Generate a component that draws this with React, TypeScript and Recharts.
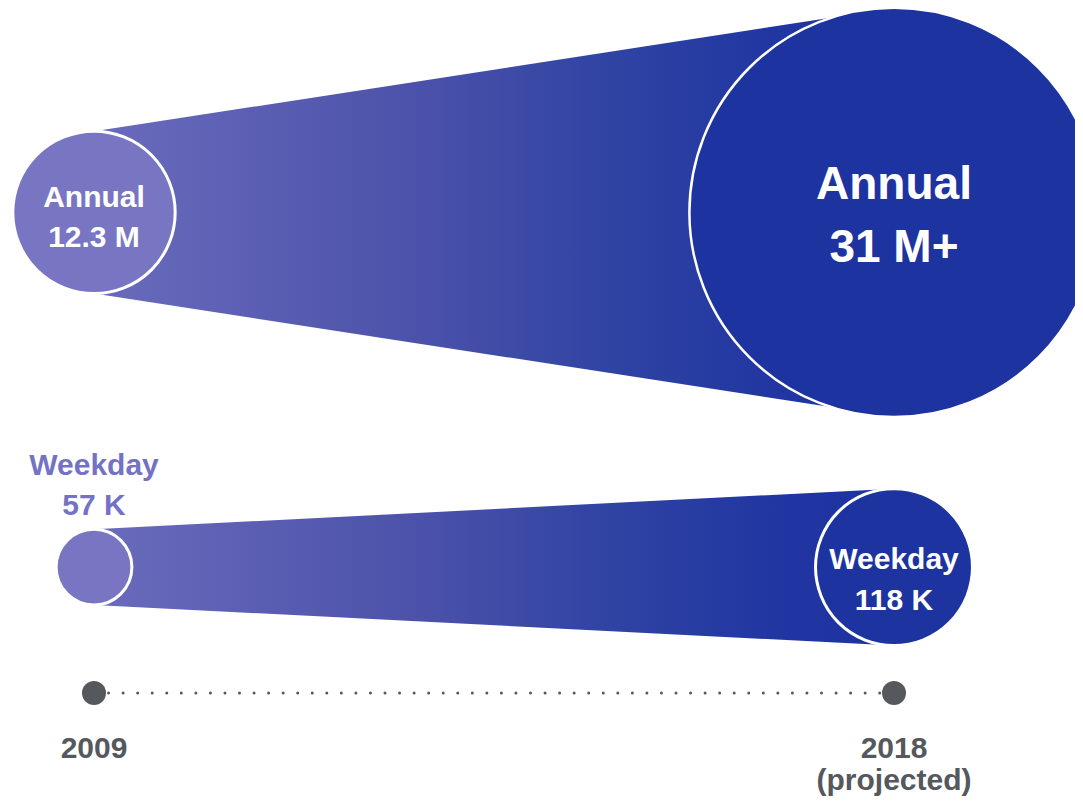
import { ComposedChart, Area, Line, Scatter, XAxis, YAxis } from "recharts";

// ridership, 2009 vs 2018 (projected)
const years = [2009, 2018];
const yearLabels = [["2009"], ["2018", "(projected)"]];
const annualRiders = [12.3, 31]; // millions
const annualLabels = [["Annual", "12.3 M"], ["Annual", "31 M+"]];
const weekdayRiders = [57, 118]; // thousands
const weekdayLabels = [["Weekday", "57 K"], ["Weekday", "118 K"]];

const W = 1075;
const H = 797;
const AXIS_H = 97;
const PLOT_H = H - AXIS_H;
const ROW = { annual: 204, weekday: 559, timeline: 685 };
const PX_PER_M = 6.6;
const PX_PER_K = 0.665;

const FONT = "'Liberation Sans', Arial, Helvetica, sans-serif";
const LIGHT = "#7876c3";
const DARK = "#1d33a0";
const GREY = "#55585d";

const data = years.map((year, i) => {
  const ra = annualRiders[i] * PX_PER_M;
  const rw = weekdayRiders[i] * PX_PER_K;
  return {
    year,
    annualBand: [ROW.annual - ra, ROW.annual + ra],
    weekdayBand: [ROW.weekday - rw, ROW.weekday + rw],
    timeline: ROW.timeline,
  };
});

const annualPts = years.map((year, i) => ({
  year,
  y: ROW.annual,
  r: annualRiders[i] * PX_PER_M,
  lines: annualLabels[i],
  i,
}));
const weekdayPts = years.map((year, i) => ({
  year,
  y: ROW.weekday,
  r: weekdayRiders[i] * PX_PER_K,
  lines: weekdayLabels[i],
  i,
}));
const timelinePts = years.map((year) => ({ year, y: ROW.timeline }));

type BubbleStyle = {
  fill: string[];
  textFill: string[];
  fontSize: number[];
  baselines: number[][];
  strokeWidth: number[];
};

const annualStyle: BubbleStyle = {
  fill: [LIGHT, DARK],
  textFill: ["#fff", "#fff"],
  fontSize: [30, 46],
  baselines: [[-5, 35], [-13, 50]],
  strokeWidth: [3, 2.5],
};
const weekdayStyle: BubbleStyle = {
  fill: [LIGHT, DARK],
  textFill: ["#7472c4", "#fff"],
  fontSize: [30, 30],
  baselines: [[-92, -52], [2, 43]],
  strokeWidth: [3, 3],
};

const Bubble = (props: any, st: BubbleStyle) => {
  const { cx, cy, payload } = props;
  const i = payload.i;
  return (
    <g>
      <circle cx={cx} cy={cy} r={payload.r} fill={st.fill[i]} stroke="#fff" strokeWidth={st.strokeWidth[i]} />
      {payload.lines.map((t: string, k: number) => (
        <text
          key={k}
          x={cx}
          y={cy + st.baselines[i][k]}
          textAnchor="middle"
          fill={st.textFill[i]}
          fontSize={st.fontSize[i]}
          fontWeight="bold"
          fontFamily={FONT}
        >
          {t}
        </text>
      ))}
    </g>
  );
};

const YearTick = (props: any) => {
  const { x, y, payload } = props;
  const lines = yearLabels[years.indexOf(payload.value)] || [];
  return (
    <g>
      {lines.map((t, k) => (
        <text
          key={k}
          x={x}
          y={y + 42 + k * 32}
          textAnchor="middle"
          fill={GREY}
          fontSize={30}
          fontWeight="bold"
          fontFamily={FONT}
        >
          {t}
        </text>
      ))}
    </g>
  );
};

export default function App() {
  return (
    <ComposedChart
      width={W}
      height={H}
      data={data}
      margin={{ top: 0, right: W - 886, bottom: 0, left: 86 }}
    >
      <defs>
        <linearGradient id="cone" x1="0" y1="0" x2="1" y2="0">
          <stop offset="0" stopColor="#6a6bbc" />
          <stop offset="0.4" stopColor="#4c52aa" />
          <stop offset="0.65" stopColor="#2f43a3" />
          <stop offset="0.85" stopColor="#2136a1" />
          <stop offset="1" stopColor="#1d32a0" />
        </linearGradient>
      </defs>
      <XAxis
        dataKey="year"
        type="number"
        domain={[2009, 2018]}
        ticks={years}
        height={AXIS_H}
        axisLine={false}
        tickLine={false}
        tick={<YearTick />}
      />
      <YAxis type="number" domain={[0, PLOT_H]} reversed hide />
      <Area
        dataKey="annualBand"
        type="linear"
        fill="url(#cone)"
        fillOpacity={1}
        stroke="none"
        isAnimationActive={false}
      />
      <Area
        dataKey="weekdayBand"
        type="linear"
        fill="url(#cone)"
        fillOpacity={1}
        stroke="none"
        isAnimationActive={false}
      />
      <Line
        dataKey="timeline"
        type="linear"
        stroke={GREY}
        strokeWidth={3}
        strokeLinecap="round"
        strokeDasharray="0 14.55"
        dot={false}
        isAnimationActive={false}
      />
      <Scatter data={annualPts} dataKey="y" shape={(p: any) => Bubble(p, annualStyle)} isAnimationActive={false} />
      <Scatter data={weekdayPts} dataKey="y" shape={(p: any) => Bubble(p, weekdayStyle)} isAnimationActive={false} />
      <Scatter
        data={timelinePts}
        dataKey="y"
        shape={(p: any) => <circle cx={p.cx} cy={p.cy} r={12} fill={GREY} />}
        isAnimationActive={false}
      />
    </ComposedChart>
  );
}
